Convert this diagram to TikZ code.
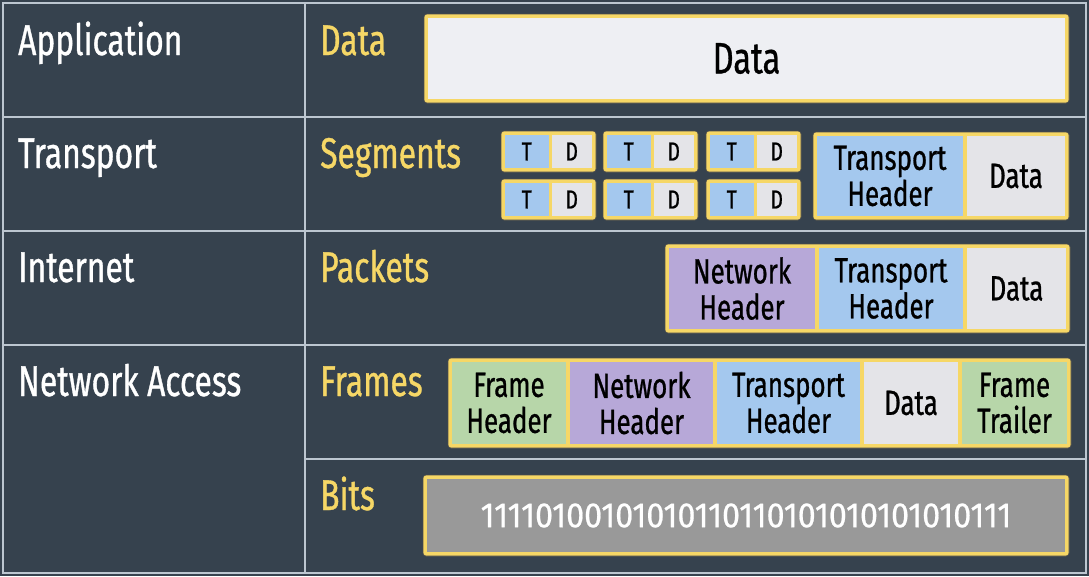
\documentclass[tikz,border=0pt]{standalone}
\usepackage{fontspec}
\setmainfont{Fira Sans}[FakeStretch=0.74, FakeBold=0.8]
\newfontfamily\bitsfont{Fira Sans}[FakeStretch=0.92, FakeBold=0.6]
\begin{document}
\definecolor{bg}{HTML}{36424E}
\definecolor{gridc}{HTML}{BCC6D0}
\definecolor{yel}{HTML}{F6D766}
\definecolor{light}{HTML}{EEEFF3}
\definecolor{blu}{HTML}{A4C8EE}
\definecolor{dgray}{HTML}{E4E4E8}
\definecolor{purp}{HTML}{B7A8D8}
\definecolor{grn}{HTML}{B7D6A9}
\definecolor{bitgray}{HTML}{999999}
\tikzset{
  layer/.style={anchor=base west, inner sep=0, text=white, font=\fontsize{43}{45}\selectfont},
  unit/.style={anchor=base west, inner sep=0, text=yel, font=\fontsize{43}{45}\selectfont},
  yframe/.style={rectangle, fill=yel, draw=black!70, line width=0.6pt, rounded corners=3pt, inner sep=0, outer sep=0},
  pcell/.style={rectangle, inner sep=0, outer sep=0, align=center, text=black, font=\fontsize{35}{36}\selectfont},
  tdcell/.style={pcell, font=\fontsize{26}{28}\selectfont},
}
% a yellow frame given by its corners: name, x0, y0, x1, y1
\newcommand\yframe[5]{\node[yframe, minimum width={(#4)-(#2)}, minimum height={(#5)-(#3)}] (#1) at ({((#2)+(#4))/2},{((#3)+(#5))/2}) {};}
% a coloured cell: [style] name, x0, x1, y0, y1, colour, text
\newcommand\pcell[8][pcell]{\node[#1, fill=#7, minimum width={(#4)-(#3)}, minimum height={(#6)-(#5)}] (#2) at ({((#3)+(#4))/2},{((#5)+(#6))/2}) {#8};}
% a small T|D segment: name, x0, y0, y1
\newcommand\tdseg[4]{%
  \yframe{#1}{#2}{#3}{#2+95}{#4}
  \pcell[tdcell]{#1T}{#2+4}{#2+47.5}{#3+4}{#4-4}{blu}{T}
  \pcell[tdcell]{#1D}{#2+50.5}{#2+91}{#3+4}{#4-4}{dgray}{D}}
\begin{tikzpicture}[x=1pt, y=-1pt]
\useasboundingbox (0,0) rectangle (1089,576);
\fill[bg] (0,0) rectangle (1089,576);

% table grid
\begin{scope}[draw=gridc, line width=2pt]
  \draw (3,3) rectangle (1086,573);
  \draw (305,3) -- (305,573);
  \draw (3,117) -- (1086,117);
  \draw (3,231) -- (1086,231);
  \draw (3,345) -- (1086,345);
  \draw (305,459) -- (1086,459);
\end{scope}

% layer names
\node[layer] (lapp) at (18,55) {Application};
\node[layer] (ltra) at (18,168) {Transport};
\node[layer] (lint) at (18,282) {Internet};
\node[layer] (lnet) at (18,396) {Network Access};

% data unit names
\node[unit] (udata) at (320,55) {Data};
\node[unit] (useg) at (320,168) {Segments};
\node[unit] (upkt) at (320,282) {Packets};
\node[unit] (ufrm) at (320,396) {Frames};
\node[unit] (ubit) at (320,510) {Bits};

% application data
\yframe{appf}{424}{14}{1069}{103}
\pcell[pcell, font=\fontsize{44}{46}\selectfont]{appd}{428}{1065}{18}{99}{light}{Data}

% segments
\tdseg{s1}{501}{131}{172}
\tdseg{s2}{603}{131}{172}
\tdseg{s3}{706}{131}{172}
\tdseg{s4}{501}{179}{220}
\tdseg{s5}{603}{179}{220}
\tdseg{s6}{706}{179}{220}
\yframe{segf}{813}{132}{1069}{220}
\pcell{segth}{817}{963}{136}{216}{blu}{Transport\\Header}
\pcell{segd}{967}{1065}{136}{216}{dgray}{Data}

% packets
\yframe{pktf}{665}{244}{1070}{333}
\pcell{pktnh}{669}{815}{248}{329}{purp}{Network\\Header}
\pcell{pktth}{819}{963}{248}{329}{blu}{Transport\\Header}
\pcell{pktd}{967}{1066}{248}{329}{dgray}{Data}

% frames
\yframe{frmf}{448}{358}{1071}{448}
\pcell{frmfh}{452}{566}{362}{444}{grn}{Frame\\Header}
\pcell{frmnh}{570}{713}{362}{444}{purp}{Network\\Header}
\pcell{frmth}{717}{860}{362}{444}{blu}{Transport\\Header}
\pcell{frmd}{864}{958}{362}{444}{dgray}{Data}
\pcell{frmft}{962}{1067}{362}{444}{grn}{Frame\\Trailer}

% bits
\yframe{bitf}{423}{475}{1069}{556}
\pcell[pcell, text=white, font=\bitsfont\fontsize{35}{36}\selectfont]{bitv}{427}{1065}{479}{552}{bitgray}{11110100101010110110101010101010111}
\end{tikzpicture}
\end{document}
